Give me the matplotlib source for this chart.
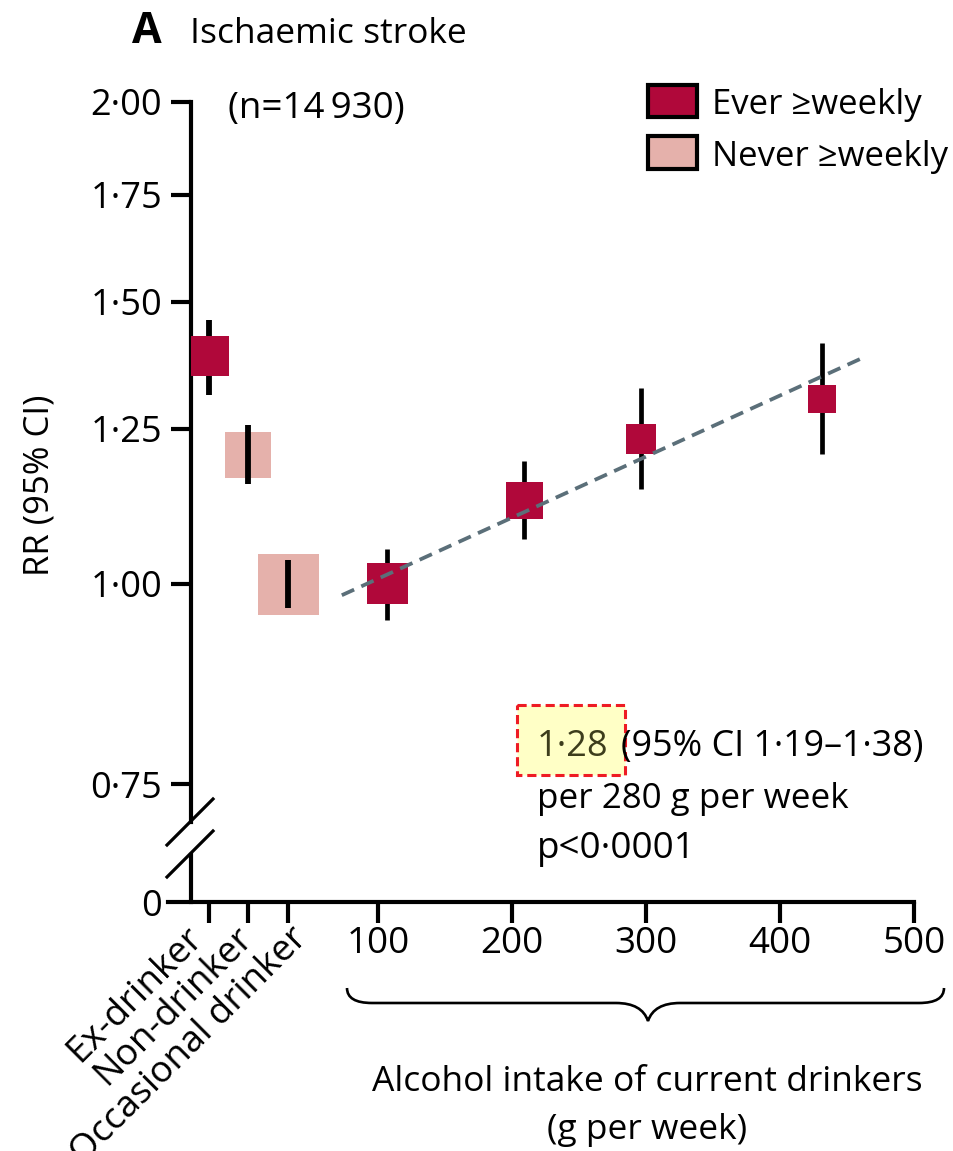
import numpy as np
import matplotlib
matplotlib.use("Agg")
import matplotlib.pyplot as plt
from matplotlib.patches import Rectangle, PathPatch
from matplotlib.path import Path
from matplotlib.lines import Line2D
from matplotlib.transforms import Affine2D
from matplotlib.ticker import NullLocator, FixedLocator

plt.rcParams['font.family'] = ['Open Sans', 'DejaVu Sans']

# ---------------- data ----------------
cat_labels = ["Ex-drinker", "Non-drinker", "Occasional drinker"]
cat_rr = [1.387, 1.204, 1.00]
cat_lo = [1.312, 1.155, 0.966]
cat_hi = [1.462, 1.256, 1.035]
cat_group = ["ever", "never", "never"]

cur_intake = [107, 209, 296, 431]          # g per week
cur_rr = [1.001, 1.129, 1.232, 1.305]
cur_lo = [0.949, 1.067, 1.147, 1.205]
cur_hi = [1.052, 1.194, 1.325, 1.414]

trend_x = [73, 460]
trend_rr = [0.984, 1.382]

y_ticks = [0.75, 1.00, 1.25, 1.50, 1.75, 2.00]
x_ticks = [100, 200, 300, 400, 500]

# box sizes (px) reflecting study weight
cat_box_px = [40, 47, 61]
cur_box_px = [41, 37, 30, 28]

RED = '#B0083A'
PINK = '#E5B1AB'
DASH = '#5B6F79'

W, H = 954, 1151
fig = plt.figure(figsize=(W / 100, H / 100), dpi=100)
pix = Affine2D().scale(1 / W, -1 / H).translate(0, 1) + fig.transFigure

def rect(l, r, t, b):
    return [l / W, 1 - b / H, (r - l) / W, (b - t) / H]

# scales in pixels
PX_PER_G = 1.34
X100 = 378
def g_of_px(px):
    return 100 + (px - X100) / PX_PER_G

Y_AXIS_PX = 191
X_RIGHT_PX = 914
TOP_PX = 101.7
BREAK_PX = 822
K = 695.8  # px per ln unit

def pt(px):
    return px * 0.72

# ---------------- main (log) axes ----------------
ax = fig.add_axes(rect(Y_AXIS_PX, X_RIGHT_PX, TOP_PX, BREAK_PX))
ax.set_yscale('log')
ax.set_ylim(2.0 * np.exp(-(BREAK_PX - TOP_PX) / K), 2.0)
ax.set_xlim(g_of_px(Y_AXIS_PX), 500)
for s in ['top', 'right', 'bottom']:
    ax.spines[s].set_visible(False)
ax.spines['left'].set_linewidth(3)
ax.yaxis.set_major_locator(FixedLocator(y_ticks))
ax.yaxis.set_minor_locator(NullLocator())
ax.set_yticklabels([f"{v:.2f}".replace('.', '·') for v in y_ticks])
ax.tick_params(axis='y', length=14.4, width=3, labelsize=26, pad=6.5)
ax.set_xticks([])
ax.patch.set_alpha(0)

# category axes sharing y
CAT0_PX = 209
CAT_STEP_PX = 39.5
axc = ax.twiny()
axc.set_xlim((Y_AXIS_PX - CAT0_PX) / CAT_STEP_PX, (X_RIGHT_PX - CAT0_PX) / CAT_STEP_PX)
axc.set_axis_off()

for i in range(len(cat_labels)):
    col = RED if cat_group[i] == 'ever' else PINK
    zline = 2 if cat_group[i] == 'ever' else 4
    axc.plot([i, i], [cat_lo[i], cat_hi[i]], color='black', lw=4.2,
             solid_capstyle='butt', zorder=zline)
    axc.plot([i], [cat_rr[i]], marker='s', ms=pt(cat_box_px[i]), color=col, mew=0, zorder=3)

ax.plot(trend_x, trend_rr, color=DASH, lw=2.7, dashes=(3.6, 2.1), zorder=4)
for i in range(len(cur_intake)):
    ax.plot([cur_intake[i]] * 2, [cur_lo[i], cur_hi[i]], color='black', lw=3.4,
            solid_capstyle='butt', zorder=2)
    ax.plot([cur_intake[i]], [cur_rr[i]], marker='s', ms=pt(cur_box_px[i]), color=RED, mew=0, zorder=3)

# ---------------- bottom strip (zero) ----------------
ax0 = fig.add_axes(rect(168, X_RIGHT_PX, 855, 902))
ax0.set_xlim(g_of_px(168), 500)
ax0.set_ylim(0, 1)
ax0.patch.set_alpha(0)
for s in ['top', 'right']:
    ax0.spines[s].set_visible(False)
ax0.spines['bottom'].set_linewidth(3)
ax0.spines['left'].set_linewidth(3)
ax0.spines['left'].set_position(('data', g_of_px(Y_AXIS_PX)))
ax0.set_yticks([0])
ax0.set_yticklabels(['0'])
ax0.tick_params(axis='y', length=0, labelsize=26, pad=pt(Y_AXIS_PX - 162))
ax0.set_xticks(x_ticks)
ax0.set_xticklabels([str(v) for v in x_ticks])
cat_tick_g = [g_of_px(CAT0_PX + CAT_STEP_PX * i) for i in range(len(cat_labels))]
ax0.xaxis.set_minor_locator(FixedLocator(cat_tick_g))
ax0.tick_params(axis='x', which='both', length=15, width=3, labelsize=26.5, pad=2)

# category labels (rotated)
label_anchor_px = [184, 235, 289]
for lab, lx in zip(cat_labels, label_anchor_px):
    fig.text(lx, 920, lab, transform=pix, rotation=45, rotation_mode='anchor',
             ha='right', va='top', fontsize=26.5)

# axis break slashes
for (x1, y1, x2, y2) in [(167, 845, 213, 799), (167, 877, 213, 831)]:
    fig.add_artist(Line2D([x1, x2], [y1, y2], transform=pix, color='black', lw=2.3))

# brace
x0b, x1b, ytop, ymid, ytip = 347, 944, 988, 1003, 1021
xm = 648
verts = [(x0b, ytop), (x0b, ymid), (x0b + 25, ymid), (xm - 32, ymid),
         (xm - 6, ymid), (xm, ytip), (xm + 6, ymid), (xm + 32, ymid),
         (x1b - 25, ymid), (x1b, ymid), (x1b, ytop)]
codes = [Path.MOVETO, Path.CURVE3, Path.CURVE3, Path.LINETO,
         Path.CURVE3, Path.CURVE3, Path.CURVE3, Path.CURVE3,
         Path.LINETO, Path.CURVE3, Path.CURVE3]
fig.add_artist(PathPatch(Path(verts, codes), transform=pix, fill=False, lw=1.9, color='black'))

fig.text(647, 1082, "Alcohol intake of current drinkers", transform=pix, ha='center', va='center', fontsize=25.5)
fig.text(647, 1130, "(g per week)", transform=pix, ha='center', va='center', fontsize=25.5)

# y-axis label
fig.text(40, 485, "RR (95% CI)", transform=pix, rotation=90, ha='center', va='center', fontsize=25)

# title
fig.text(132, 43, "A", transform=pix, ha='left', va='baseline', fontsize=31, fontweight='bold')
fig.text(190, 43, "Ischaemic stroke", transform=pix, ha='left', va='baseline', fontsize=25.5)
fig.text(228, 118, "(n=14\u2009930)", transform=pix, ha='left', va='baseline', fontsize=26.5)

# legend
for (t, b, col, lab) in [(85, 117, RED, "Ever \u2265weekly"), (136, 169, PINK, "Never \u2265weekly")]:
    fig.add_artist(Rectangle((648, t), 49, b - t, transform=pix, facecolor=col, edgecolor='black', lw=3))
    fig.text(712, b - 3, lab, transform=pix, ha='left', va='baseline', fontsize=25)

# annotation
fig.add_artist(Rectangle((517, 705), 108, 70, transform=pix, facecolor='#FFFFC6',
                         edgecolor='#EE1B24', lw=2.2, ls=(0, (3, 1.6)), zorder=1))
fig.text(537, 756, "1·28", transform=pix, ha='left', va='baseline', fontsize=26, color='#3d3d1c', zorder=2)
fig.text(621, 756, "(95% CI 1·19–1·38)", transform=pix, ha='left', va='baseline', fontsize=25.8, zorder=2)
fig.text(537, 808, "per 280 g per week", transform=pix, ha='left', va='baseline', fontsize=25.2)
fig.text(537, 858, "p<0·0001", transform=pix, ha='left', va='baseline', fontsize=26.5)

fig.savefig("out.png", dpi=100)
